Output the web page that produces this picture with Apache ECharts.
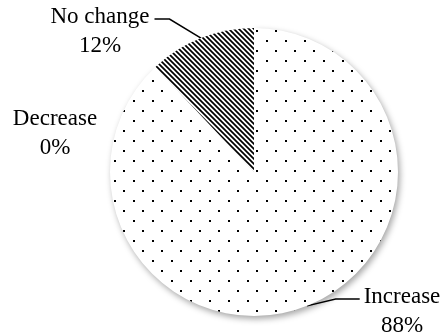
<!DOCTYPE html>
<html>
<head>
<meta charset="utf-8">
<script src="https://cdn.jsdelivr.net/npm/echarts@6/dist/echarts.min.js"></script>
<style>
  html, body { margin: 0; padding: 0; background: #fff; }
  #chart { width: 444px; height: 336px; }
</style>
</head>
<body>
<div id="chart"></div>
<script>
// data
var categories = ['Increase', 'Decrease', 'No change'];
var shares = [88, 0, 12];

// fill patterns
function dotPattern() {
    var c = document.createElement('canvas');
    c.width = 19; c.height = 20;
    var g = c.getContext('2d');
    g.fillStyle = '#fff';
    g.fillRect(0, 0, 19, 20);
    g.fillStyle = '#000';
    g.fillRect(0, 0, 2, 2);
    g.fillRect(9, 10, 2, 2);
    return c;
}
function hatchPattern() {
    var c = document.createElement('canvas');
    c.width = 5; c.height = 5;
    var g = c.getContext('2d');
    g.fillStyle = '#fff';
    g.fillRect(0, 0, 5, 5);
    g.strokeStyle = '#000';
    g.lineWidth = 1.7;
    g.beginPath();
    g.moveTo(-1, -1); g.lineTo(6, 6);
    g.moveTo(-1, 4); g.lineTo(1, 6);
    g.moveTo(4, -1); g.lineTo(6, 1);
    g.stroke();
    return c;
}

var fills = [
    { image: dotPattern(), repeat: 'repeat' },
    '#fff',
    { image: hatchPattern(), repeat: 'repeat' }
];
// where each label sits (centre of the text block)
var labelSpots = [[402, 311], [55, 133], [100, 31]];

var chart = echarts.init(document.getElementById('chart'), null, { renderer: 'canvas' });

var items = categories.map(function (name, i) {
    return {
        name: name,
        value: shares[i],
        itemStyle: {
            color: fills[i],
            shadowColor: i === 0 ? 'rgba(0,0,0,0.35)' : 'rgba(0,0,0,0)',
            shadowBlur: i === 0 ? 6 : 0,
            shadowOffsetX: 2,
            shadowOffsetY: 3
        },
        labelLine: { show: i !== 1 }
    };
});

chart.setOption({
    animation: false,
    backgroundColor: '#fff',
    series: [{
        type: 'pie',
        center: [254, 172],
        radius: 144,
        startAngle: 90,
        clockwise: true,
        minShowLabelAngle: 0,
        data: items,
        label: {
            show: true,
            formatter: function (p) { return p.name + '\n' + p.value + '%'; },
            fontFamily: 'Liberation Serif',
            fontSize: 23,
            lineHeight: 29,
            color: '#000',
            align: 'center'
        },
        labelLine: {
            show: true,
            length: 12,
            length2: 12,
            lineStyle: { color: '#000', width: 1.5 }
        },
        labelLayout: function (p) {
            var s = labelSpots[p.dataIndex];
            var w = p.labelRect.width;
            var lineY = s[1] - 12;
            var out = { x: s[0], y: s[1], align: 'center', verticalAlign: 'middle' };
            var edge = p.labelLinePoints && p.labelLinePoints[0];
            if (edge && p.dataIndex === 2) {
                var right = s[0] + w / 2;
                out.labelLinePoints = [edge, [right + 20, lineY], [right + 5, lineY]];
            } else if (edge && p.dataIndex === 0) {
                var left = s[0] - w / 2;
                out.labelLinePoints = [edge, [left - 28, lineY], [left - 4, lineY]];
            }
            return out;
        },
        emphasis: { disabled: true }
    }]
});
</script>
</body>
</html>
